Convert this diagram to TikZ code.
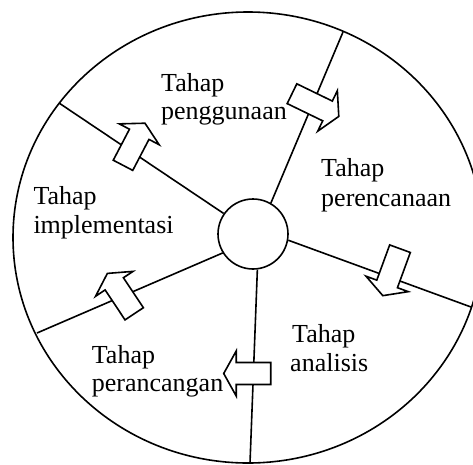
\documentclass[tikz,border=0pt]{standalone}
\usepackage{fontspec}
\setmainfont{Liberation Serif}
\begin{document}
\begin{tikzpicture}[x=1pt,y=-1pt,
  outline/.style={line width=1.6pt, black},
  arrowbox/.style={line width=1.6pt, black, fill=white, line join=miter},
  label/.style={anchor=base west, inner sep=0pt, font=\fontsize{26}{29}\selectfont},
  hub/.style={circle, draw, line width=1.6pt, fill=white, minimum size=70pt, inner sep=0pt}]
\newcommand\blkarrow[3]{%
  \draw[arrowbox, shift={(#1)}, rotate=#2]
    (0,-11) -- ({#3-12.5},-11) -- ({#3-12.5},-22.5) -- (#3,0)
    -- ({#3-12.5},22.5) -- ({#3-12.5},11) -- (0,11) -- cycle;}
\useasboundingbox (0,0) rectangle (473,464);
\clip (0,0) rectangle (473,464);
% outer ring
\draw[outline] (248,237.5) ellipse [x radius=235, y radius=225.5];
% hub
\node[hub] (c) at (253,234) {};
% outer ends of the spokes
\coordinate (o1) at (343,32);
\coordinate (o2) at (471,307);
\coordinate (o3) at (250,463);
\coordinate (o4) at (37,333);
\coordinate (o5) at (59,103);
\draw[outline] (c.60) -- (o1);
\draw[outline] (c.-10) -- (o2);
\draw[outline] (c.-83) -- (o3);
\draw[outline] (c.212) -- (o4);
\draw[outline] (c.145) -- (o5);
% block arrows
\blkarrow{292,93.7}{-25.9}{52}
\blkarrow{400,248.7}{-110.1}{50}
\blkarrow{270.7,373.5}{180}{47}
\blkarrow{134.2,313.8}{123.6}{48.5}
\blkarrow{123,165.3}{62.4}{47.5}
% labels
\node[label] (l1a) at (161,91) {Tahap};
\node[label] (l1b) at (161,119) {penggunaan};
\node[label] (l2a) at (321,176) {Tahap};
\node[label] (l2b) at (321,206) {perencanaan};
\node[label] (l3a) at (292,342) {Tahap};
\node[label] (l3b) at (290,371) {analisis};
\node[label] (l4a) at (91.7,363) {Tahap};
\node[label] (l4b) at (91.7,391) {perancangan};
\node[label] (l5a) at (33.3,204) {Tahap};
\node[label] (l5b) at (33.3,233) {implementasi};
\end{tikzpicture}
\end{document}
